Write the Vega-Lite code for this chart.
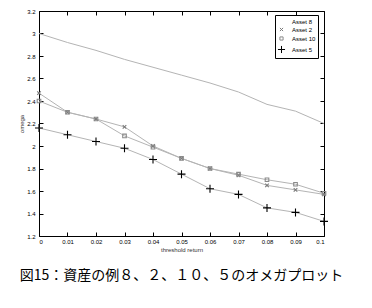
{
  "$schema": "https://vega.github.io/schema/vega-lite/v6.json",
  "width": 285,
  "height": 225,
  "autosize": {"type": "none"},
  "padding": {"left": 39, "top": 11, "right": 48, "bottom": 72},
  "background": "white",
  "view": {"stroke": null},
  "config": {
    "axis": {
      "labelFont": "Liberation Sans",
      "labelFontSize": 6,
      "labelColor": "black",
      "titleFont": "Liberation Sans",
      "titleFontSize": 6,
      "titleFontWeight": "normal",
      "titleColor": "#333333",
      "domain": true,
      "domainColor": "black",
      "domainWidth": 1,
      "grid": false,
      "tickColor": "black",
      "tickSize": -4,
      "labelPadding": 8
    }
  },
  "title": {
    "text": "図15：資産の例８、２、１０、５のオメガプロット",
    "orient": "bottom",
    "anchor": "middle",
    "font": "Noto Sans CJK JP",
    "fontSize": 14,
    "fontWeight": "normal",
    "color": "black",
    "offset": 17
  },
  "data": {
    "values": [
      {"series": "Asset 8", "x": 0, "y": 3.0},
      {"series": "Asset 8", "x": 0.01, "y": 2.92},
      {"series": "Asset 8", "x": 0.02, "y": 2.85},
      {"series": "Asset 8", "x": 0.03, "y": 2.77},
      {"series": "Asset 8", "x": 0.04, "y": 2.7},
      {"series": "Asset 8", "x": 0.05, "y": 2.63},
      {"series": "Asset 8", "x": 0.06, "y": 2.56},
      {"series": "Asset 8", "x": 0.07, "y": 2.48},
      {"series": "Asset 8", "x": 0.08, "y": 2.37},
      {"series": "Asset 8", "x": 0.09, "y": 2.31},
      {"series": "Asset 8", "x": 0.1, "y": 2.2},
      {"series": "Asset 2", "x": 0, "y": 2.47},
      {"series": "Asset 2", "x": 0.01, "y": 2.3},
      {"series": "Asset 2", "x": 0.02, "y": 2.24},
      {"series": "Asset 2", "x": 0.03, "y": 2.17},
      {"series": "Asset 2", "x": 0.04, "y": 2.0},
      {"series": "Asset 2", "x": 0.05, "y": 1.89},
      {"series": "Asset 2", "x": 0.06, "y": 1.8},
      {"series": "Asset 2", "x": 0.07, "y": 1.74},
      {"series": "Asset 2", "x": 0.08, "y": 1.65},
      {"series": "Asset 2", "x": 0.09, "y": 1.61},
      {"series": "Asset 2", "x": 0.1, "y": 1.57},
      {"series": "Asset 10", "x": 0, "y": 2.4},
      {"series": "Asset 10", "x": 0.01, "y": 2.3},
      {"series": "Asset 10", "x": 0.02, "y": 2.24},
      {"series": "Asset 10", "x": 0.03, "y": 2.09},
      {"series": "Asset 10", "x": 0.04, "y": 1.99},
      {"series": "Asset 10", "x": 0.05, "y": 1.89},
      {"series": "Asset 10", "x": 0.06, "y": 1.8},
      {"series": "Asset 10", "x": 0.07, "y": 1.75},
      {"series": "Asset 10", "x": 0.08, "y": 1.7},
      {"series": "Asset 10", "x": 0.09, "y": 1.66},
      {"series": "Asset 10", "x": 0.1, "y": 1.58},
      {"series": "Asset 5", "x": 0, "y": 2.16},
      {"series": "Asset 5", "x": 0.01, "y": 2.1},
      {"series": "Asset 5", "x": 0.02, "y": 2.04},
      {"series": "Asset 5", "x": 0.03, "y": 1.98},
      {"series": "Asset 5", "x": 0.04, "y": 1.88},
      {"series": "Asset 5", "x": 0.05, "y": 1.75},
      {"series": "Asset 5", "x": 0.06, "y": 1.62},
      {"series": "Asset 5", "x": 0.07, "y": 1.57},
      {"series": "Asset 5", "x": 0.08, "y": 1.45},
      {"series": "Asset 5", "x": 0.09, "y": 1.41},
      {"series": "Asset 5", "x": 0.1, "y": 1.33}
    ]
  },
  "layer": [
    {
      "mark": {"type": "line", "color": "#b4b4b4", "strokeWidth": 1},
      "encoding": {
        "x": {
          "field": "x", "type": "quantitative",
          "scale": {"domain": [0, 0.1], "nice": false, "zero": false},
          "axis": {"orient": "bottom", "values": [0, 0.01, 0.02, 0.03, 0.04, 0.05, 0.06, 0.07, 0.08, 0.09, 0.1], "format": "~g", "title": "threshold return", "titlePadding": 2, "labelPadding": 6}
        },
        "y": {
          "field": "y", "type": "quantitative",
          "scale": {"domain": [1.2, 3.2], "nice": false, "zero": false},
          "axis": {"orient": "left", "values": [1.2, 1.4, 1.6, 1.8, 2, 2.2, 2.4, 2.6, 2.8, 3, 3.2], "format": "~g", "title": "omega", "titlePadding": 2}
        },
        "detail": {"field": "series"}
      }
    },
    {
      "mark": {"type": "point", "filled": false, "strokeWidth": 1.1, "opacity": 1},
      "encoding": {
        "x": {
          "field": "x", "type": "quantitative",
          "axis": {"orient": "top", "values": [0, 0.01, 0.02, 0.03, 0.04, 0.05, 0.06, 0.07, 0.08, 0.09, 0.1], "labels": false, "title": null}
        },
        "y": {
          "field": "y", "type": "quantitative",
          "axis": {"orient": "right", "values": [1.2, 1.4, 1.6, 1.8, 2, 2.2, 2.4, 2.6, 2.8, 3, 3.2], "labels": false, "title": null}
        },
        "shape": {
          "field": "series", "type": "nominal",
          "scale": {
            "domain": ["Asset 8", "Asset 2", "Asset 10", "Asset 5"],
            "range": ["M0,0", "M-0.45,-0.45L0.45,0.45M-0.45,0.45L0.45,-0.45", "M-0.45,-0.45L0.45,-0.45L0.45,0.45L-0.45,0.45Z", "M-1,0L1,0M0,-1L0,1"]
          },
          "legend": {
            "title": null,
            "orient": "none",
            "legendX": 236,
            "legendY": 4,
            "strokeColor": "black",
            "fillColor": "white",
            "padding": 2,
            "labelFont": "Liberation Sans",
            "labelFontSize": 6,
            "labelColor": "black",
            "rowPadding": 0,
            "symbolSize": 50,
            "symbolStrokeWidth": 1,
            "labelOffset": 6
          }
        },
        "color": {
          "field": "series", "type": "nominal",
          "scale": {
            "domain": ["Asset 8", "Asset 2", "Asset 10", "Asset 5"],
            "range": ["#b4b4b4", "#7a7a7a", "#8a8a8a", "#000000"]
          }
        },
        "size": {"value": 64}
      }
    }
  ],
  "resolve": {"axis": {"x": "independent", "y": "independent"}}
}
